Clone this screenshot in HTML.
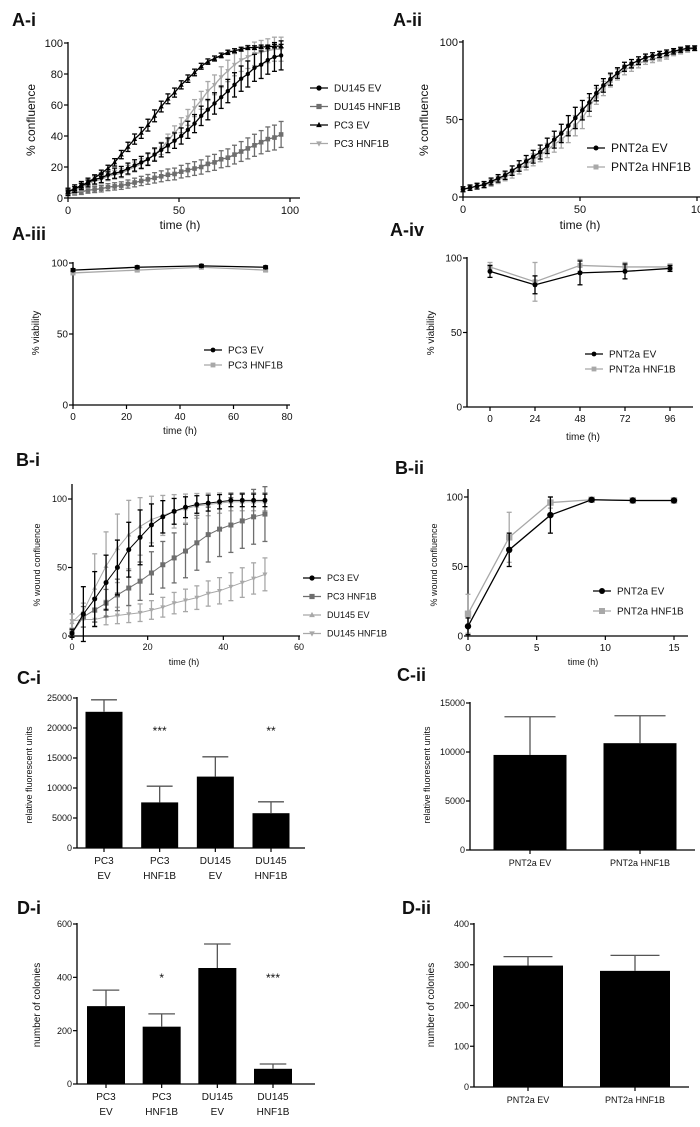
<!DOCTYPE html>
<html><head><meta charset="utf-8"><style>
html,body{margin:0;padding:0;background:#fff;}
svg{display:block;font-family:"Liberation Sans",Arial,sans-serif;}
</style></head><body>
<svg id="fig" width="700" height="1127" viewBox="0 0 700 1127"></svg>
<script>
// ---------- DATA ----------
const tA = [0,3,6,9,12,15,18,21,24,27,30,33,36,39,42,45,48,51,54,57,60,63,66,69,72,75,78,81,84,87,90,93,96];
const aDu145Ev = [4,6,8,10,12,13,15,16,17,19,21,23,25,28,31,34,37,40,44,48,53,57,61,65,69,73,77,80,84,86,89,91,92];
const aDu145Hnf = [3,3.5,4,5,5.5,6,7,7.5,8,9,10,11,12,13,14,15,15.5,17,18,19,20,22,23,25,26,28,30,32,34,36,38,39,41];
const aPc3Ev = [4,6,8,10,13,16,19,23,28,33,38,42,47,53,59,64,68,73,77,81,85,88,90,92,94,95,96,97,97,97.5,97.5,98,98];
const aPc3Hnf = [4,5,7,9,11,12,14,15,16,18,20,22,25,28,32,37,42,47,52,58,63,69,73,78,82,86,89,91,93,94,95,96,96];
const tA2 = [0,3,6,9,12,15,18,21,24,27,30,33,36,39,42,45,48,51,54,57,60,63,66,69,72,75,78,81,84,87,90,93,96,99];
const aPnt2aEv = [5,6,7,8,10,12,14,17,20,23,26,29,33,37,41,46,51,56,61,67,72,76,80,84,86,88,90,91,92,93,94,95,96,96];
const aPnt2aHnf = [5,6,7,8,9,11,13,15,18,21,24,27,30,34,37,41,46,51,58,65,70,75,79,82,84,86,88,89,90,91,93,94,95,96];
const tV1 = [0,24,48,72];
const vPc3Ev = [95,97,98,97];
const vPc3Hnf = [93,95,97,95];
const tV2 = [0,24,48,72,96];
const vPntEv = [91,82,90,91,93];
const vPntEvErr = [4,6,8,5,2];
const vPntHnf = [94,84,95,94,94];
const vPntHnfErr = [3,13,4,3,2];
const tB = [0,3,6,9,12,15,18,21,24,27,30,33,36,39,42,45,48,51];
const bPc3Ev = [2,16,27,39,50,63,72,81,87,91,94,96,97,98,99,99,99,99];
const bPc3Hnf = [2,14,19,24,30,35,40,46,52,57,62,68,74,78,81,84,87,89];
const bDuEv = [10,18,35,51,64,74,80,85,88,91,93,95,96,97,98,98,98,98];
const bDuHnf = [11,12,12,14,15,16,17,19,21,24,26,28,31,33,36,39,42,45];
const tB2 = [0,3,6,9,12,15];
const bPntEv = [7,62,87,98,97.5,97.5];
const bPntEvErr = [6,12,13,1,1,1];
const bPntHnf = [16,71,96,98,97.5,97.5];
const bPntHnfErr = [14,18,4,1,1,1];
const cCats = ["PC3|EV","PC3|HNF1B","DU145|EV","DU145|HNF1B"];
const cVals = [22700,7600,11900,5800];
const cErrs = [2000,2700,3300,1900];
const cStars = ["","***","","**"];
const c2Cats = ["PNT2a EV","PNT2a HNF1B"];
const c2Vals = [9700,10900];
const c2Errs = [3900,2800];
const dVals = [292,215,435,57];
const dErrs = [60,48,90,18];
const dStars = ["","*","","***"];
const d2Vals = [298,285];
const d2Errs = [22,38];

// ---------- HELPERS ----------
const NS = "http://www.w3.org/2000/svg";
const svg = document.getElementById("fig");
function mk(tag, attrs, parent){
  const e = document.createElementNS(NS, tag);
  for (const k in attrs) e.setAttribute(k, attrs[k]);
  (parent||svg).appendChild(e);
  return e;
}
function lin(d0,d1,r0,r1){ return v => r0 + (v-d0)*(r1-r0)/(d1-d0); }
function txt(x,y,s,size,parent,anchor,weight,rot){
  const e = mk("text",{x:x,y:y,"font-size":size,"text-anchor":anchor||"middle",fill:"#111"},parent);
  if (weight) e.setAttribute("font-weight",weight);
  if (rot) e.setAttribute("transform","rotate(-90 "+x+" "+y+")");
  e.textContent = s;
  return e;
}
function axes(g, c){
  // y axis
  const ya = mk("line",{x1:c.yx,y1:c.yTop,x2:c.yx,y2:c.xy,stroke:"#000","stroke-width":1.3},g);
  
  
  const xa = mk("line",{x1:c.yx,y1:c.xy,x2:c.xRight,y2:c.xy,stroke:"#000","stroke-width":1.3},g);
  
  
  c.yTicks.forEach((v,i)=>{
    const y = c.ys(v);
    mk("line",{x1:c.yx-4,y1:y,x2:c.yx,y2:y,stroke:"#000","stroke-width":1.2},g);
    const t = txt(c.yx-5,y+c.fs*0.35,c.yLabels[i],c.fs,g,"end");
    
    
  });
  (c.xTicks||[]).forEach((v,i)=>{
    const x = c.xs(v);
    mk("line",{x1:x,y1:c.xy,x2:x,y2:c.xy+4,stroke:"#000","stroke-width":1.2},g);
    const t = txt(x,c.xy+5+c.fs,c.xLabels[i],c.fs,g);
    
    
  });
  if (c.xTitle){
    const t = txt(c.xTitle[0],c.xTitle[1],"time (h)",c.tfs,g);
    
    
  }
  const yt = txt(c.yTitle[0],c.yTitle[1],c.yTitle[2],c.tfs,g,"middle",null,true);
  
  
}
function marker(g,shape,x,y,r,col){
  if (shape==="circle") return mk("circle",{cx:x,cy:y,r:r,fill:col},g);
  if (shape==="square") return mk("rect",{x:x-r,y:y-r,width:2*r,height:2*r,fill:col},g);
  if (shape==="up") return mk("polygon",{points:`${x},${y-r*1.2} ${x-r*1.1},${y+r*0.8} ${x+r*1.1},${y+r*0.8}`,fill:col},g);
  return mk("polygon",{points:`${x},${y+r*1.2} ${x-r*1.1},${y-r*0.8} ${x+r*1.1},${y-r*0.8}`,fill:col},g);
}
function series(g,c,xsArr,ysArr,errs,col,shape,r,name,sw){
  const sg = mk("g",{},g);
  
  
  const pts = xsArr.map((t,i)=>[c.xs(t),c.ys(ysArr[i])]);
  if (errs){
    pts.forEach((p,i)=>{
      const e = errs[i], y1=c.ys(ysArr[i]+e), y2=c.ys(ysArr[i]-e);
      mk("line",{x1:p[0],y1:y1,x2:p[0],y2:y2,stroke:col,"stroke-width":1.3},sg);
      mk("line",{x1:p[0]-2.5,y1:y1,x2:p[0]+2.5,y2:y1,stroke:col,"stroke-width":1.3},sg);
      mk("line",{x1:p[0]-2.5,y1:y2,x2:p[0]+2.5,y2:y2,stroke:col,"stroke-width":1.3},sg);
    });
  }
  mk("polyline",{points:pts.map(p=>p.join(",")).join(" "),fill:"none",stroke:col,"stroke-width":sw||1.3},sg);
  pts.forEach(p=>marker(sg,shape,p[0],p[1],r,col));
}
function legend(g,x,y,dy,items,fs,r){
  items.forEach((it,i)=>{
    const lg = mk("g",{},g);
    
    
    const yy = y+i*dy;
    mk("line",{x1:x,y1:yy,x2:x+18,y2:yy,stroke:it[1],"stroke-width":1.3},lg);
    marker(lg,it[2],x+9,yy,r,it[1]);
    txt(x+24,yy+fs*0.35,it[0],fs,lg,"start");
  });
}
function title(s,x,y){
  const t = txt(x,y,s,18,svg,"start","bold");
  
  
}
function panelG(name){
  const g = mk("g",{});
  
  
  return g;
}
function errOf(arr,k,b){ return arr.map((v,i)=>b+k*Math.min(v,100-v+20)/10); }
const BLK="#000", DG="#6e6e6e", LG="#a8a8a8";

// ---------- A-i ----------
title("A-i",12,26);
(function(){
  const g = panelG("panel-a-i");
  const c = {xs:lin(0,100,68,290), ys:lin(0,100,198,43), yx:68, xy:198, yTop:42, xRight:300,
    yTicks:[0,20,40,60,80,100], yLabels:["0","20","40","60","80","100"],
    xTicks:[0,50,100], xLabels:["0","50","100"], fs:11, tfs:12, xTitle:[180,229], yTitle:[35,120,"% confluence"]};
  axes(g,c);
  series(g,c,tA,aDu145Hnf,aDu145Hnf.map(v=>1+v*0.18),DG,"square",2.3,"series-du145-hnf1b");
  series(g,c,tA,aPc3Hnf,aPc3Hnf.map(v=>2+v*0.06),LG,"down",2.3,"series-pc3-hnf1b");
  series(g,c,tA,aDu145Ev,aDu145Ev.map(v=>2+v*0.08),BLK,"circle",2.2,"series-du145-ev");
  series(g,c,tA,aPc3Ev,aPc3Ev.map(v=>1+Math.min(v,100-v)*0.06),BLK,"up",2.3,"series-pc3-ev");
  legend(g,310,88,18.5,[["DU145 EV",BLK,"circle"],["DU145 HNF1B",DG,"square"],["PC3 EV",BLK,"up"],["PC3 HNF1B",LG,"down"]],10,2.6);
})();

// ---------- A-ii ----------
title("A-ii",393,26);
(function(){
  const g = panelG("panel-a-ii");
  const c = {xs:lin(0,100,463,697), ys:lin(0,100,197,42), yx:463, xy:197, yTop:40, xRight:700,
    yTicks:[0,50,100], yLabels:["0","50","100"], xTicks:[0,50,100], xLabels:["0","50","10"], fs:11, tfs:12,
    xTitle:[580,229], yTitle:[428,120,"% confluence"]};
  axes(g,c);
  series(g,c,tA2,aPnt2aHnf,aPnt2aHnf.map(v=>1+Math.min(v,100-v)*0.12),LG,"square",2.3,"series-pnt2a-hnf1b");
  series(g,c,tA2,aPnt2aEv,aPnt2aEv.map(v=>1+Math.min(v,100-v)*0.12),BLK,"circle",2.3,"series-pnt2a-ev");
  legend(g,587,148,19,[["PNT2a EV",BLK,"circle"],["PNT2a HNF1B",LG,"square"]],12,2.5);
})();

// ---------- A-iii ----------
title("A-iii",12,240);
(function(){
  const g = panelG("panel-a-iii");
  const c = {xs:lin(0,80,73,287), ys:lin(0,100,405,263), yx:73, xy:405, yTop:262, xRight:290,
    yTicks:[0,50,100], yLabels:["0","50","100"], xTicks:[0,20,40,60,80], xLabels:["0","20","40","60","80"], fs:10, tfs:10,
    xTitle:[180,434], yTitle:[39,333,"% viability"]};
  axes(g,c);
  series(g,c,tV1,vPc3Hnf,[1,1,1,1],LG,"square",2.5,"series-pc3-hnf1b");
  series(g,c,tV1,vPc3Ev,[1,1,1,1],BLK,"circle",2.5,"series-pc3-ev");
  legend(g,204,350,15,[["PC3 EV",BLK,"circle"],["PC3 HNF1B",LG,"square"]],10,2.4);
})();

// ---------- A-iv ----------
title("A-iv",390,236);
(function(){
  const g = panelG("panel-a-iv");
  const c = {xs:lin(0,96,490,670), ys:lin(0,100,407,258), yx:467, xy:407, yTop:257, xRight:693,
    yTicks:[0,50,100], yLabels:["0","50","100"], xTicks:[0,24,48,72,96], xLabels:["0","24","48","72","96"], fs:10, tfs:10,
    xTitle:[583,440], yTitle:[434,333,"% viability"]};
  axes(g,c);
  series(g,c,tV2,vPntHnf,vPntHnfErr,LG,"square",2.5,"series-pnt2a-hnf1b");
  series(g,c,tV2,vPntEv,vPntEvErr,BLK,"circle",2.5,"series-pnt2a-ev");
  legend(g,585,354,15,[["PNT2a EV",BLK,"circle"],["PNT2a HNF1B",LG,"square"]],10,2.4);
})();

// ---------- B-i ----------
title("B-i",16,466);
(function(){
  const g = panelG("panel-b-i");
  const c = {xs:lin(0,60,72,299), ys:lin(0,100,636,499), yx:72, xy:636, yTop:484, xRight:300,
    yTicks:[0,50,100], yLabels:["0","50","100"], xTicks:[0,20,40,60], xLabels:["0","20","40","60"], fs:9, tfs:9,
    xTitle:[184,665], yTitle:[40,565,"% wound confluence"]};
  axes(g,c);
  series(g,c,tB,bDuHnf,bDuHnf.map(v=>3+v*0.2),LG,"down",2.3,"series-du145-hnf1b",1);
  series(g,c,tB,bDuEv,bDuEv.map((v,i)=>i<2?6:Math.max(3,Math.min(25,(100-v)*0.8+5))),LG,"up",2.3,"series-du145-ev",1);
  series(g,c,tB,bPc3Hnf,bPc3Hnf.map((v,i)=>i<1?3:Math.min(20,4+v*0.25)),DG,"square",2.5,"series-pc3-hnf1b",1);
  series(g,c,tB,bPc3Ev,bPc3Ev.map((v,i)=>i<1?3:Math.max(2,Math.min(20,(100-v)*0.6+4))),BLK,"circle",2.5,"series-pc3-ev",1);
  legend(g,303,578,18.5,[["PC3 EV",BLK,"circle"],["PC3 HNF1B",DG,"square"],["DU145 EV",LG,"up"],["DU145 HNF1B",LG,"down"]],9,2.6);
})();

// ---------- B-ii ----------
title("B-ii",395,474);
(function(){
  const g = panelG("panel-b-ii");
  const c = {xs:lin(0,15,468,674), ys:lin(0,100,636,497), yx:468, xy:636, yTop:489, xRight:688,
    yTicks:[0,50,100], yLabels:["0","50","100"], xTicks:[0,5,10,15], xLabels:["0","5","10","15"], fs:10, tfs:9,
    xTitle:[583,665], yTitle:[437,565,"% wound confluence"]};
  axes(g,c);
  series(g,c,tB2,bPntHnf,bPntHnfErr,LG,"square",3.2,"series-pnt2a-hnf1b");
  series(g,c,tB2,bPntEv,bPntEvErr,BLK,"circle",3.2,"series-pnt2a-ev");
  legend(g,593,591,20,[["PNT2a EV",BLK,"circle"],["PNT2a HNF1B",LG,"square"]],10,3);
})();

// ---------- bar helper ----------
function bars(g,c,vals,errs,cats,stars,bw,name){
  vals.forEach((v,i)=>{
    const x = c.xs(i), y = c.ys(v), ye = c.ys(v+errs[i]);
    const b = mk("rect",{x:x-bw/2,y:y,width:bw,height:c.xy-y,fill:"#000"},g);
    
    
    mk("line",{x1:x,y1:y,x2:x,y2:ye,stroke:"#555","stroke-width":1.3},g);
    mk("line",{x1:x-bw*0.35,y1:ye,x2:x+bw*0.35,y2:ye,stroke:"#555","stroke-width":1.3},g);
    mk("line",{x1:x,y1:c.xy,x2:x,y2:c.xy+4,stroke:"#000","stroke-width":1.2},g);
    const parts = cats[i].split("|");
    parts.forEach((p,k)=>{
      const t = txt(x,c.xy+16+k*15,p,c.cfs,g);
      
      
    });
    if (stars && stars[i]){
      const s = txt(x,c.starY,stars[i],12,g);
      
      
    }
  });
}

// ---------- C-i ----------
title("C-i",17,684);
(function(){
  const g = panelG("panel-c-i");
  const c = {xs:lin(0,3,104,271), ys:lin(0,25000,848,698), yx:77, xy:848, yTop:697, xRight:305,
    yTicks:[0,5000,10000,15000,20000,25000], yLabels:["0","5000","10000","15000","20000","25000"], fs:9, tfs:9,
    yTitle:[32,775,"relative fluorescent units"], cfs:10, starY:735};
  axes(g,c);
  bars(g,c,cVals,cErrs,cCats,cStars,37,"c-i");
})();

// ---------- C-ii ----------
title("C-ii",397,681);
(function(){
  const g = panelG("panel-c-ii");
  const c = {xs:lin(0,1,530,640), ys:lin(0,15000,850,703), yx:470, xy:850, yTop:702, xRight:695,
    yTicks:[0,5000,10000,15000], yLabels:["0","5000","10000","15000"], fs:9, tfs:9,
    yTitle:[430,775,"relative fluorescent units"], cfs:9};
  axes(g,c);
  bars(g,c,c2Vals,c2Errs,c2Cats,null,73,"c-ii");
})();

// ---------- D-i ----------
title("D-i",17,914);
(function(){
  const g = panelG("panel-d-i");
  const c = {xs:lin(0,3,106,273), ys:lin(0,600,1084,924), yx:77, xy:1084, yTop:923, xRight:315,
    yTicks:[0,200,400,600], yLabels:["0","200","400","600"], fs:9, tfs:10,
    yTitle:[40,1005,"number of colonies"], cfs:10, starY:982};
  axes(g,c);
  bars(g,c,dVals,dErrs,cCats,dStars,38,"d-i");
})();

// ---------- D-ii ----------
title("D-ii",402,914);
(function(){
  const g = panelG("panel-d-ii");
  const c = {xs:lin(0,1,528,635), ys:lin(0,400,1087,924), yx:474, xy:1087, yTop:923, xRight:689,
    yTicks:[0,100,200,300,400], yLabels:["0","100","200","300","400"], fs:9, tfs:10,
    yTitle:[434,1005,"number of colonies"], cfs:9};
  axes(g,c);
  bars(g,c,d2Vals,d2Errs,c2Cats,null,70,"d-ii");
})();
</script>
</body></html>
